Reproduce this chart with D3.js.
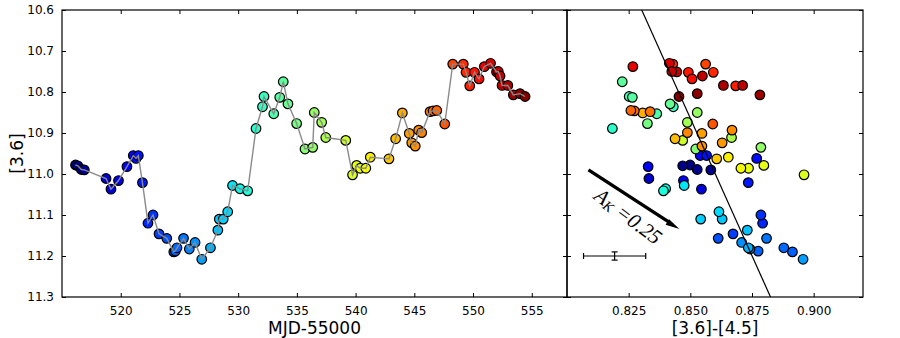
<!DOCTYPE html>
<html>
<head>
<meta charset="utf-8">
<script src="https://cdn.jsdelivr.net/npm/d3@7"></script>
<style>
  body { margin: 0; background: #fff; }
  svg { display: block; font-family: "DejaVu Sans", sans-serif; }
</style>
</head>
<body>
<svg id="chart" width="900" height="338"></svg>
<script>
// light curve + colour-magnitude panel

// DATA
var mjd = [516.15,516.35,516.65,516.9,518.75,519.17,519.81,520.53,521.07,521.3,
  521.5,521.85,522.32,522.75,523.26,523.92,524.52,524.65,524.79,525.35,
  525.84,526.33,526.9,527.64,528.27,528.39,528.73,529.11,529.52,530.16,
  530.81,531.52,532.07,532.2,533.03,533.54,533.84,534.24,534.98,535.69,
  536.35,536.48,537.11,537.46,539.16,539.74,540.09,540.4,540.87,541.25,
  542.84,543.41,543.98,544.57,544.78,545.08,545.37,545.63,546.34,546.6,
  546.91,547.59,548.27,549.17,549.4,549.72,550.12,550.51,550.96,551.49,
  552.0,552.15,552.3,552.47,552.96,553.43,554.0,554.43];

var mag36 = [10.978,10.980,10.989,10.990,11.011,11.037,11.016,10.982,10.955,10.962,
  10.955,11.021,11.120,11.100,11.146,11.157,11.190,11.188,11.180,11.157,
  11.183,11.167,11.208,11.180,11.137,11.110,11.110,11.092,11.028,11.036,
  11.041,10.889,10.836,10.811,10.853,10.813,10.775,10.829,10.877,10.939,
  10.935,10.850,10.874,10.911,10.918,11.002,10.979,10.986,10.986,10.959,
  10.963,10.914,10.851,10.901,10.924,10.932,10.893,10.899,10.848,10.846,
  10.845,10.878,10.732,10.732,10.752,10.785,10.752,10.768,10.738,10.730,
  10.751,10.750,10.761,10.784,10.784,10.807,10.804,10.811];

var col3645 = [0.8499,0.8469,0.8528,0.8583,0.8332,0.8545,0.8472,0.8329,0.8540,0.8769,
  0.8566,0.8735,0.8793,0.8786,0.8673,0.8613,0.8914,0.8775,0.8879,0.8809,
  0.8742,0.8708,0.8957,0.8735,0.8731,0.8629,0.8542,0.8616,0.8475,0.8400,
  0.8391,0.8184,0.8431,0.8252,0.8364,0.8265,0.8224,0.8418,0.8326,0.8522,
  0.8786,0.8528,0.8488,0.8667,0.8469,0.8961,0.8798,0.8736,0.8705,0.8654,
  0.8607,0.8438,0.8307,0.8547,0.8629,0.8547,0.8669,0.8488,0.8337,0.8273,
  0.8259,0.8591,0.8562,0.8429,0.8593,0.8684,0.8492,0.8507,0.8267,0.8415,
  0.8445,0.8425,0.8549,0.8712,0.8634,0.8782,0.8528,0.8454];

var mjdTicks = [520, 525, 530, 535, 540, 545, 550, 555];
var colTicks = [0.825, 0.850, 0.875, 0.900];
var magTicks = [10.6, 10.7, 10.8, 10.9, 11.0, 11.1, 11.2, 11.3];

// fitted line, extinction arrow and typical error bar (right panel)
var fitCol = [0.8303, 0.8825], fitMag = [10.6, 11.3];
var arrowCol = [0.8087, 0.8456], arrowMag = [10.990, 11.134];
var errCol = 0.8193, errMag = 11.2, errDx = 0.0126, errDy = 0.01;

// Layout
var pTop = 10, pBottom = 297;
var leftL = 62, leftR = 567, rightL = 567, rightR = 863;

var svg = d3.select('#chart');

var y = d3.scaleLinear().domain([10.6, 11.3]).range([pTop, pBottom]);
var xT = d3.scaleLinear().domain([515, 558]).range([leftL, leftR]);
var xC = d3.scaleLinear().domain([0.80, 0.92]).range([rightL, rightR]);

// matplotlib "jet"
var jr = d3.scaleLinear().domain([0, 0.35, 0.66, 0.89, 1]).range([0, 0, 1, 1, 0.5]).clamp(true);
var jg = d3.scaleLinear().domain([0, 0.125, 0.375, 0.64, 0.91, 1]).range([0, 0, 1, 1, 0, 0]).clamp(true);
var jb = d3.scaleLinear().domain([0, 0.11, 0.34, 0.65, 1]).range([0.5, 1, 1, 0, 0]).clamp(true);
var tNorm = d3.scaleLinear().domain(d3.extent(mjd)).range([0, 1]);
function jet(t) {
  return d3.rgb(255 * jr(t), 255 * jg(t), 255 * jb(t)).toString();
}

var pts = mjd.map(function(d, i) {
  return {t: d, m: mag36[i], c: col3645[i], color: jet(tNorm(d))};
});

var defs = svg.append('defs');
defs.append('clipPath').attr('id', 'clipL').append('rect')
  .attr('x', leftL).attr('y', pTop).attr('width', leftR - leftL).attr('height', pBottom - pTop);
defs.append('clipPath').attr('id', 'clipR').append('rect')
  .attr('x', rightL).attr('y', pTop).attr('width', rightR - rightL).attr('height', pBottom - pTop);

var R = 4.8;

// LEFT PANEL
var gl = svg.append('g').attr('clip-path', 'url(#clipL)');
gl.selectAll('circle').data(pts).enter().append('circle')
  .attr('cx', function(d) { return xT(d.t); })
  .attr('cy', function(d) { return y(d.m); })
  .attr('r', R)
  .attr('fill', function(d) { return d.color; })
  .attr('stroke', '#000').attr('stroke-width', 1.2);

gl.append('path')
  .datum(pts)
  .attr('fill', 'none').attr('stroke', '#8a8a8a').attr('stroke-width', 1.4)
  .attr('d', d3.line().x(function(d) { return xT(d.t); }).y(function(d) { return y(d.m); }));

// RIGHT PANEL
var gr = svg.append('g').attr('clip-path', 'url(#clipR)');
gr.selectAll('circle').data(pts).enter().append('circle')
  .attr('cx', function(d) { return xC(d.c); })
  .attr('cy', function(d) { return y(d.m); })
  .attr('r', R)
  .attr('fill', function(d) { return d.color; })
  .attr('stroke', '#000').attr('stroke-width', 1.2);

gr.append('line')
  .attr('x1', xC(fitCol[0])).attr('y1', y(fitMag[0]))
  .attr('x2', xC(fitCol[1])).attr('y2', y(fitMag[1]))
  .attr('stroke', '#000').attr('stroke-width', 1.2);

// extinction arrow
var ax0 = xC(arrowCol[0]), ay0 = y(arrowMag[0]), ax1 = xC(arrowCol[1]), ay1 = y(arrowMag[1]);
var ang = Math.atan2(ay1 - ay0, ax1 - ax0);
var hl = 14, hw = 4;
var bx = ax1 - hl * Math.cos(ang), by = ay1 - hl * Math.sin(ang);
gr.append('line')
  .attr('x1', ax0).attr('y1', ay0).attr('x2', bx + 2 * Math.cos(ang)).attr('y2', by + 2 * Math.sin(ang))
  .attr('stroke', '#000').attr('stroke-width', 3.4);
gr.append('path')
  .attr('d', 'M' + ax1 + ',' + ay1 +
    'L' + (bx - hw * Math.sin(ang)) + ',' + (by + hw * Math.cos(ang)) +
    'L' + (bx + hw * 0.6 * Math.sin(ang)) + ',' + (by - hw * 0.6 * Math.cos(ang)) + 'Z')
  .attr('fill', '#000');

var deg = ang * 180 / Math.PI;
var lab = gr.append('text')
  .attr('transform', 'translate(' + (xC(0.8243)) + ',' + (y(11.107)) + ') rotate(' + (deg + 4) + ')')
  .attr('text-anchor', 'middle')
  .attr('dominant-baseline', 'middle')
  .style('font-family', '"Liberation Serif", serif')
  .style('font-style', 'italic')
  .style('font-size', '21px');
lab.append('tspan').text('A');
lab.append('tspan').attr('dy', 4).style('font-size', '14px').text('K');
lab.append('tspan').attr('dy', -4).text(' =0.25');

// typical error bar
var eb = gr.append('g').attr('stroke', '#000').attr('stroke-width', 1.2);
eb.append('line').attr('x1', xC(errCol - errDx)).attr('x2', xC(errCol + errDx))
  .attr('y1', y(errMag)).attr('y2', y(errMag));
eb.append('line').attr('x1', xC(errCol)).attr('x2', xC(errCol))
  .attr('y1', y(errMag - errDy)).attr('y2', y(errMag + errDy));
[errCol - errDx, errCol + errDx].forEach(function(c) {
  eb.append('line').attr('x1', xC(c)).attr('x2', xC(c))
    .attr('y1', y(errMag) - 3).attr('y2', y(errMag) + 3);
});
[errMag - errDy, errMag + errDy].forEach(function(m) {
  eb.append('line').attr('x1', xC(errCol) - 3).attr('x2', xC(errCol) + 3)
    .attr('y1', y(m)).attr('y2', y(m));
});

// AXES (matplotlib style: inward ticks on every side)
function frame(x, xticks, fmt, showY) {
  var x0 = x.range()[0], x1 = x.range()[1];
  var g = svg.append('g');
  g.append('rect').attr('x', x0).attr('y', pTop).attr('width', x1 - x0).attr('height', pBottom - pTop)
    .attr('fill', 'none').attr('stroke', '#000').attr('stroke-width', 1.2);

  var bot = g.append('g').attr('transform', 'translate(0,' + pBottom + ')')
    .call(d3.axisBottom(x).tickValues(xticks).tickFormat(fmt).tickSizeInner(-4).tickSizeOuter(0).tickPadding(9));
  var tp = g.append('g').attr('transform', 'translate(0,' + pTop + ')')
    .call(d3.axisTop(x).tickValues(xticks).tickFormat('').tickSizeInner(-4).tickSizeOuter(0));
  var lf = g.append('g').attr('transform', 'translate(' + x0 + ',0)')
    .call(d3.axisLeft(y).tickValues(magTicks).tickFormat(showY ? d3.format('.1f') : '')
      .tickSizeInner(-4).tickSizeOuter(0).tickPadding(8));
  var rt = g.append('g').attr('transform', 'translate(' + x1 + ',0)')
    .call(d3.axisRight(y).tickValues(magTicks).tickFormat('').tickSizeInner(-4).tickSizeOuter(0));
  [bot, tp, lf, rt].forEach(function(a) {
    a.select('.domain').remove();
    a.selectAll('.tick line').attr('stroke', '#000').attr('stroke-width', 1);
    a.selectAll('text').attr('fill', '#000').style('font-size', '12px')
      .style('font-family', '"DejaVu Sans", sans-serif');
  });
}

frame(xT, mjdTicks, d3.format('d'), true);
frame(xC, colTicks, d3.format('.3f'), false);

// axis labels
svg.append('text').attr('x', (leftL + leftR) / 2).attr('y', 334)
  .attr('text-anchor', 'middle').style('font-size', '17px').text('MJD-55000');
svg.append('text').attr('x', (rightL + rightR) / 2).attr('y', 334)
  .attr('text-anchor', 'middle').style('font-size', '17px').text('[3.6]-[4.5]');
svg.append('text')
  .attr('transform', 'translate(23,' + ((pTop + pBottom) / 2) + ') rotate(-90)')
  .attr('text-anchor', 'middle').style('font-size', '17px').text('[3.6]');
</script>
</body>
</html>
